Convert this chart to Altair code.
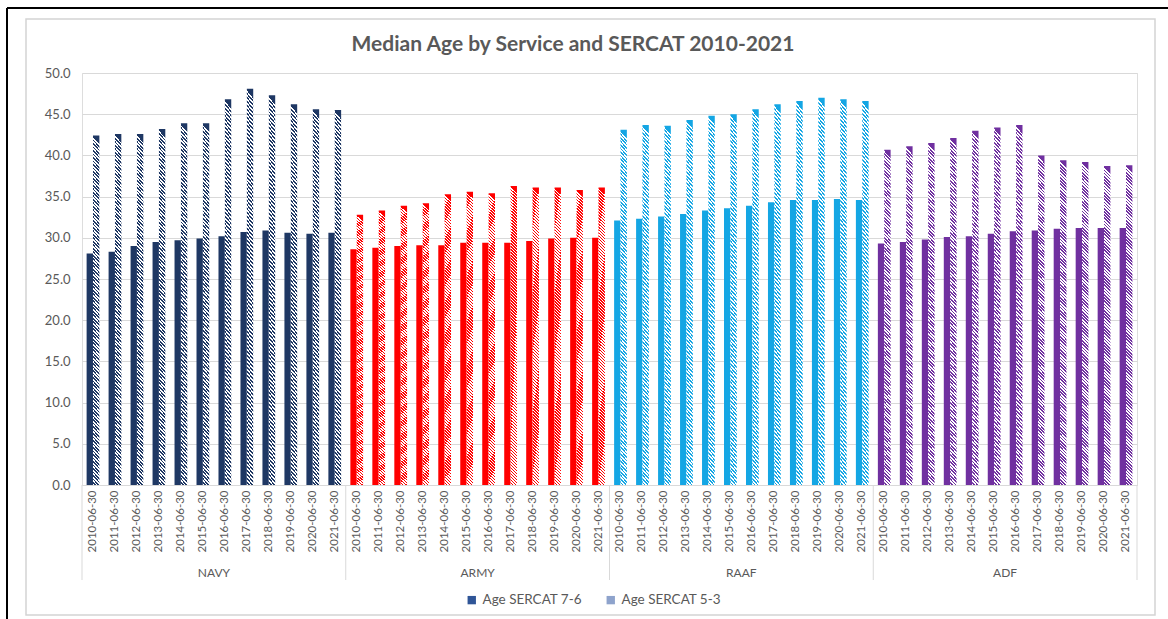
import altair as alt
import pandas as pd

services = ["NAVY", "ARMY", "RAAF", "ADF"]
dates = ["2010-06-30", "2011-06-30", "2012-06-30", "2013-06-30", "2014-06-30", "2015-06-30",
         "2016-06-30", "2017-06-30", "2018-06-30", "2019-06-30", "2020-06-30", "2021-06-30"]
series = ["Age SERCAT 7-6", "Age SERCAT 5-3"]
service_colors = ["#1F3864", "#FF0000", "#14A6E4", "#7030A0"]
legend_colors = ["#2F5597", "#8EA3CC"]
title_text = ["Median Age by Service and SERCAT 2010-2021"]

navy_76 = [28.1, 28.3, 29.0, 29.5, 29.7, 29.9, 30.2, 30.7, 30.9, 30.6, 30.5, 30.6]
navy_53 = [42.4, 42.6, 42.6, 43.2, 43.9, 43.9, 46.8, 48.1, 47.3, 46.2, 45.6, 45.5]
army_76 = [28.6, 28.8, 29.0, 29.1, 29.1, 29.4, 29.4, 29.4, 29.6, 29.9, 30.0, 30.0]
army_53 = [32.8, 33.3, 33.9, 34.2, 35.3, 35.6, 35.4, 36.3, 36.1, 36.1, 35.8, 36.1]
raaf_76 = [32.1, 32.3, 32.6, 32.9, 33.3, 33.6, 33.9, 34.3, 34.6, 34.6, 34.7, 34.6]
raaf_53 = [43.1, 43.7, 43.6, 44.3, 44.8, 45.0, 45.6, 46.2, 46.6, 47.0, 46.8, 46.6]
adf_76 = [29.3, 29.5, 29.8, 30.1, 30.2, 30.5, 30.8, 30.9, 31.1, 31.2, 31.2, 31.2]
adf_53 = [40.7, 41.1, 41.5, 42.1, 43.0, 43.4, 43.7, 40.0, 39.4, 39.2, 38.7, 38.8]

y_ticks = [0, 5, 10, 15, 20, 25, 30, 35, 40, 45, 50]

TEXT = "#595959"
GRID = "#D9D9D9"
FONT = "Lato"
W, H = 1055, 412
P_IN, P_OUT = 0.42, 0.21
STEP = W / (48 - P_IN + 2 * P_OUT)
HALF_GAP = STEP * P_OUT

rows = []
for s, v76, v53 in zip(services, [navy_76, army_76, raaf_76, adf_76], [navy_53, army_53, raaf_53, adf_53]):
    for d, a, b in zip(dates, v76, v53):
        key = f"{s}|{d}"
        rows.append(dict(service=s, date=d, key=key, series=series[0], age=a))
        rows.append(dict(service=s, date=d, key=key, series=series[1], age=b))
df = pd.DataFrame(rows)
keys = [f"{s}|{d}" for s in services for d in dates]

xscale = alt.Scale(domain=keys, paddingInner=P_IN, paddingOuter=P_OUT)
xaxis = alt.Axis(title=None, labelAngle=-90, labelExpr="split(datum.value, '|')[1]",
                 ticks=False, domainColor=GRID, labelColor=TEXT, labelFont=FONT,
                 labelFontSize=11.5, labelPadding=5, grid=False)


def xenc(**kw):
    return alt.X("key:N", sort=keys, scale=xscale, axis=xaxis, **kw)


xoff = alt.XOffset("series:N", scale=alt.Scale(domain=series, paddingInner=0, paddingOuter=0))
yenc = alt.Y("age:Q", scale=alt.Scale(domain=[0, 50], nice=False),
             axis=alt.Axis(title=None, values=y_ticks, format=".1f", domain=False, ticks=False,
                           gridColor=GRID, labelColor=TEXT, labelFont=FONT, labelFontSize=13,
                           labelPadding=12))


def hatch(color, n=100):
    stops = []
    for i in range(n):
        stops.append(alt.GradientStop(color=color, offset=i / n))
        stops.append(alt.GradientStop(color=color, offset=(i + 0.5) / n))
        stops.append(alt.GradientStop(color="#FFFFFF", offset=(i + 0.5) / n))
        stops.append(alt.GradientStop(color="#FFFFFF", offset=(i + 1) / n))
    return alt.LinearGradient(gradient="linear", stops=stops, x1=0.02, y1=0, x2=0, y2=1)


base = alt.Chart(df)

solid = base.transform_filter(alt.datum.series == series[0]).mark_bar().encode(
    x=xenc(), xOffset=xoff, y=yenc,
    fill=alt.Fill("service:N", scale=alt.Scale(domain=services, range=service_colors), legend=None),
)

hatched_layers = []
for s, c in zip(services, service_colors):
    hatched_layers.append(
        base.transform_filter((alt.datum.series == series[1]) & (alt.datum.service == s))
        .mark_bar(fill=hatch(c))
        .encode(x=xenc(), xOffset=xoff, y=yenc)
    )

legend_df = pd.DataFrame({"series": series, "key": [keys[0], keys[0]], "age": [1, 1]})
legend_layer = alt.Chart(legend_df).mark_square(opacity=0, size=10).encode(
    x=xenc(), xOffset=xoff, y=yenc,
    color=alt.Color("series:N", scale=alt.Scale(domain=series, range=legend_colors),
                    legend=alt.Legend(title=None, orient="none", direction="horizontal",
                                      legendX=383, legendY=520, symbolOpacity=1,
                                      symbolType="square", symbolSize=70,
                                      labelFont=FONT, labelFontSize=13.5, labelColor=TEXT,
                                      columnPadding=22, symbolStrokeWidth=0)),
)

sep_df = pd.DataFrame({"key": [f"{s}|{dates[0]}" for s in services]})
seps = alt.Chart(sep_df).mark_rule(color=GRID, xOffset=-HALF_GAP).encode(
    x=xenc(bandPosition=0), y=alt.value(H), y2=alt.value(H + 95))
end_df = pd.DataFrame({"key": [keys[-1]]})
sep_end = alt.Chart(end_df).mark_rule(color=GRID, xOffset=HALF_GAP).encode(
    x=xenc(bandPosition=1), y=alt.value(H), y2=alt.value(H + 95))

grp_df = pd.DataFrame({"service": services, "key": [f"{s}|{dates[5]}" for s in services]})
grp_labels = alt.Chart(grp_df).mark_text(dx=HALF_GAP, baseline="middle", align="center",
                                         font=FONT, fontSize=12, color=TEXT).encode(
    x=xenc(bandPosition=1), y=alt.value(H + 88), text="service:N")

title_df = pd.DataFrame({"t": title_text})
title = alt.Chart(title_df).mark_text(align="center", baseline="middle", font=FONT, fontSize=21,
                                      fontWeight="bold", color=TEXT).encode(
    x=alt.value(491), y=alt.value(-28), text="t:N")

frame_df = pd.DataFrame({"a": [0]})
inner_frame = alt.Chart(frame_df).mark_rect(fillOpacity=0, stroke="#D4D4D4", strokeWidth=1.5).encode(
    x=alt.value(-56), x2=alt.value(1073), y=alt.value(-54), y2=alt.value(542))
outer_left = alt.Chart(frame_df).mark_rule(color="#000000", strokeWidth=2).encode(
    x=alt.value(-75), y=alt.value(-65), y2=alt.value(560))
outer_top = alt.Chart(frame_df).mark_rule(color="#000000", strokeWidth=2).encode(
    x=alt.value(-75), x2=alt.value(1100), y=alt.value(-65))

chart = alt.layer(
    inner_frame, outer_left, outer_top, title, legend_layer, solid, *hatched_layers,
    seps, sep_end, grp_labels
).properties(
    width=W, height=H,
    autosize=alt.AutoSizeParams(type="none"),
    padding={"left": 82, "top": 73, "right": 31, "bottom": 134},
).configure_view(strokeWidth=0).configure(background="#FFFFFF")

chart.save("out.html", embed_options={"renderer": "svg", "actions": False})
